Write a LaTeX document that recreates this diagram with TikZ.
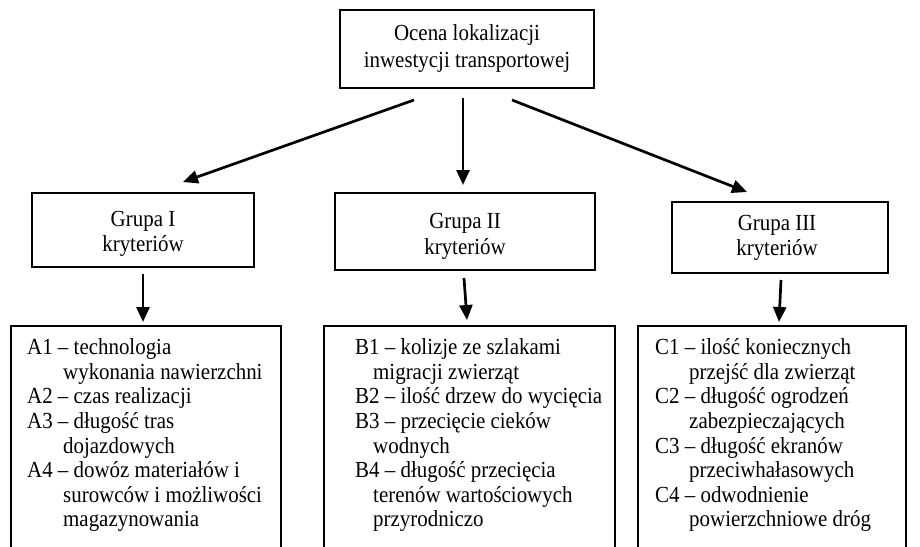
\documentclass[tikz,border=0pt]{standalone}
\usepackage{fontspec}
\setmainfont[FakeStretch=0.91]{Liberation Serif}
\usetikzlibrary{arrows.meta}
\begin{document}
\begin{tikzpicture}[x=1pt,y=-1pt,
  box/.style={draw, line width=2.2pt, inner sep=0pt},
  lbl/.style={align=center, inner sep=0pt, font=\fontsize{23}{25.5}\selectfont},
  crit/.style={anchor=north west, inner sep=0pt, align=left,
    font=\fontsize{23}{24.6}\selectfont},
  arr/.style={line width=2.7pt, -{Triangle[length=15pt,width=13pt]}}]
\useasboundingbox (0,0) rectangle (920,546);
\clip (0,0) rectangle (920,546);

% top node
\node[box, minimum width=254, minimum height=78, align=center,
  font=\fontsize{23}{27}\selectfont] (top) at (467,49)
  {Ocena lokalizacji\\inwestycji transportowej};

% criteria groups
\node[box, minimum width=222, minimum height=74] (g1) at (143,230) {};
\node[box, minimum width=260, minimum height=77] (g2) at (465,231.5) {};
\node[box, minimum width=216, minimum height=71] (g3) at (780,237.5) {};
\node[lbl] (g1t) at (143,234) {Grupa I\\kryteriów};
\node[lbl] (g2t) at (465,236.5) {Grupa II\\kryteriów};
\node[lbl] (g3t) at (777,238) {Grupa III\\kryteriów};

% criteria lists (frames run past the lower edge)
\node[draw, line width=2pt, anchor=north west, minimum width=270, minimum height=260] (la) at (10,325) {};
\node[draw, line width=2pt, anchor=north west, minimum width=291, minimum height=260] (lb) at (323,325) {};
\node[draw, line width=2pt, anchor=north west, minimum width=268, minimum height=260] (lc) at (637,325) {};

\node[crit] (ta) at (27,338.5) {A1 – technologia\\
  \hspace*{36pt}wykonania nawierzchni\\
  A2 – czas realizacji\\
  A3 – długość tras\\
  \hspace*{36pt}dojazdowych\\
  A4 – dowóz materiałów i\\
  \hspace*{36pt}surowców i możliwości\\
  \hspace*{36pt}magazynowania};
\node[crit] (tb) at (355,338.5) {B1 – kolizje ze szlakami\\
  \hspace*{18pt}migracji zwierząt\\
  B2 – ilość drzew do wycięcia\\
  B3 – przecięcie cieków\\
  \hspace*{18pt}wodnych\\
  B4 – długość przecięcia\\
  \hspace*{18pt}terenów wartościowych\\
  \hspace*{18pt}przyrodniczo};
\node[crit] (tc) at (655,338.5) {C1 – ilość koniecznych\\
  \hspace*{34pt}przejść dla zwierząt\\
  C2 – długość ogrodzeń\\
  \hspace*{34pt}zabezpieczających\\
  C3 – długość ekranów\\
  \hspace*{34pt}przeciwhałasowych\\
  C4 – odwodnienie\\
  \hspace*{34pt}powierzchniowe dróg};

% arrow ends
\coordinate (s1) at (414,100);
\coordinate (e1) at (183,182);
\coordinate (s2) at (463,98);
\coordinate (e2) at (463,185);
\coordinate (s3) at (512,100);
\coordinate (e3) at (747,192);
\coordinate (s4) at (143,274);
\coordinate (e4) at (143,322);
\coordinate (s5) at (464,278);
\coordinate (e5) at (467,320);
\coordinate (s6) at (781,280);
\coordinate (e6) at (779,322);

\draw[arr] (s1) -- (e1);
\draw[arr] (s2) -- (e2);
\draw[arr] (s3) -- (e3);
\draw[arr] (s4) -- (e4);
\draw[arr] (s5) -- (e5);
\draw[arr] (s6) -- (e6);
\end{tikzpicture}
\end{document}
